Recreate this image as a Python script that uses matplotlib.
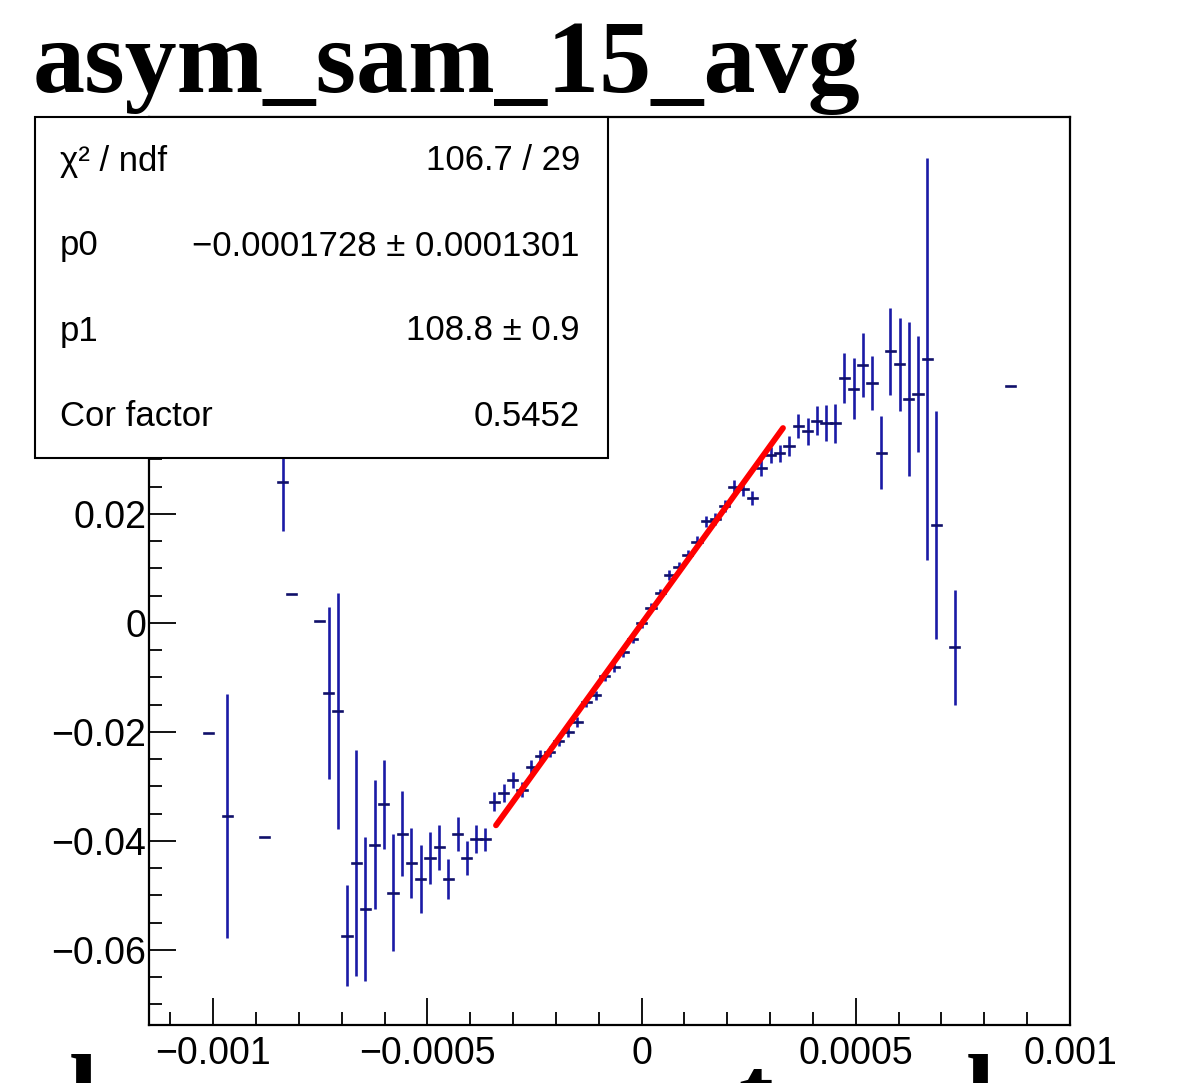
import matplotlib
matplotlib.use('Agg')
import matplotlib.pyplot as plt
import numpy as np
from matplotlib.patches import Rectangle

plt.rcParams['font.family'] = ['Liberation Sans', 'DejaVu Sans']

# histogram binning: 100 bins on [-0.00115, 0.001]
nbins = 100
xlo = -0.00115
xhi = 0.001

# filled bins (index), bin content and error
bins = [6, 8, 12, 14, 15, 18, 19, 20, 21, 22, 23, 24, 25, 26, 27, 28, 29, 30,
        31, 32, 33, 34, 35, 36, 37, 38, 39, 40, 41, 42, 43, 44, 45, 46, 47, 48,
        49, 50, 51, 52, 53, 54, 55, 56, 57, 58, 59, 60, 61, 62, 63, 64, 65, 66,
        67, 68, 69, 70, 71, 72, 73, 74, 75, 76, 77, 78, 79, 80, 81, 82, 83, 84,
        85, 87, 93]
vals = [-0.0202, -0.0354, -0.0393, 0.0258, 0.0053, 0.00035, -0.0129, -0.0162,
        -0.0574, -0.0441, -0.0525, -0.0407, -0.0333, -0.0495, -0.0387, -0.0441,
        -0.0470, -0.0432, -0.0412, -0.0470, -0.0387, -0.0432, -0.0397, -0.0397,
        -0.0328, -0.0312, -0.0288, -0.0306, -0.0264, -0.0245, -0.0237, -0.0216,
        -0.0200, -0.0182, -0.0146, -0.0133, -0.0098, -0.0082, -0.0054, -0.0030,
        -0.0001, 0.0028, 0.0054, 0.0088, 0.0103, 0.0125, 0.0149, 0.0186, 0.0190,
        0.0215, 0.0250, 0.0245, 0.0229, 0.0284, 0.0308, 0.0311, 0.0324, 0.0361,
        0.0351, 0.0371, 0.0366, 0.0366, 0.0449, 0.0429, 0.0473, 0.0440, 0.0312,
        0.0498, 0.0474, 0.0410, 0.0420, 0.0484, 0.0180, -0.0045, 0.0435]
errs = [0.0, 0.0224, 0.0, 0.0090, 0.0, 0.0, 0.0158, 0.0217,
        0.0093, 0.0208, 0.0132, 0.0118, 0.0082, 0.0107, 0.0078, 0.0064,
        0.0062, 0.0048, 0.0041, 0.0036, 0.0031, 0.0031, 0.0026, 0.0021,
        0.0017, 0.0017, 0.0015, 0.0013, 0.0012, 0.0011, 0.0010, 0.0010,
        0.0009, 0.0009, 0.0009, 0.0008, 0.0008, 0.0008, 0.0008, 0.0008,
        0.0008, 0.0008, 0.0008, 0.0009, 0.0009, 0.0009, 0.0010, 0.0010, 0.0011,
        0.0011, 0.0012, 0.0013, 0.0013, 0.0015, 0.0014, 0.0016, 0.0018, 0.0022,
        0.0025, 0.0026, 0.0033, 0.0036, 0.0046, 0.0056, 0.0059, 0.0050, 0.0067,
        0.0080, 0.0085, 0.0141, 0.0107, 0.0369, 0.0209, 0.0106, 0.0]

# fit result
p0 = -0.0001728
p1 = 108.8
fit_range = [-0.00034, 0.00033]
stats_names = ['\u03c7\u00b2 / ndf', 'p0', 'p1', 'Cor factor']
stats_vals = ['106.7 / 29', '\u22120.0001728 \u00b1 0.0001301', '108.8 \u00b1 0.9', '0.5452']

xticks = [-0.001, -0.0005, 0, 0.0005, 0.001]
xticklabels = ['\u22120.001', '\u22120.0005', '0', '0.0005', '0.001']
yticks = [-0.06, -0.04, -0.02, 0, 0.02, 0.04, 0.06, 0.08]
# labels above 0.02 sit under the stats box
yticklabels = ['\u22120.06', '\u22120.04', '\u22120.02', '0', '0.02', '', '', '']

W, H = 1177, 1083
fig = plt.figure(figsize=(W / 100, H / 100), dpi=100)
ax = fig.add_axes([149 / W, 1 - 1025 / H, 921 / W, 908 / H])

width = (xhi - xlo) / nbins
centers = xlo + (np.asarray(bins) + 0.5) * width
vals = np.asarray(vals)
errs = np.asarray(errs)

has_err = errs > 0
ax.errorbar(centers[has_err], vals[has_err], yerr=errs[has_err], fmt='none',
            ecolor='#1a1aa6', elinewidth=1.9, capsize=0, zorder=2)
ax.hlines(vals, centers - width / 2, centers + width / 2, colors='#10106a',
          linewidth=1.9, capstyle='projecting', zorder=3)

fx = np.asarray(fit_range)
ax.plot(fx, p0 + p1 * fx, color='#ff0000', lw=4.2, solid_capstyle='round', zorder=4)

ax.set_xlim(xlo, xhi)
ax.set_ylim(-0.0738, 0.0928)
ax.set_xticks(xticks)
ax.set_xticklabels(xticklabels)
ax.set_yticks(yticks)
ax.set_yticklabels(yticklabels)
ax.set_xticks(np.arange(-0.0011, 0.00101, 0.0001), minor=True)
ax.set_yticks(np.arange(-0.07, 0.0901, 0.005), minor=True)
ax.tick_params(which='both', direction='in', top=False, right=False, width=1.3,
               labelsize=27, colors='black')
ax.tick_params(which='major', length=19.5)
ax.tick_params(which='minor', length=9.5)
ax.tick_params(axis='x', which='major', pad=8)
ax.tick_params(axis='y', which='major', pad=2)
for s in ax.spines.values():
    s.set_linewidth(1.6)

# stats box
box = Rectangle((35 / W, 1 - 458 / H), 573 / W, 341 / H, transform=fig.transFigure,
                facecolor='white', edgecolor='black', linewidth=1.5, zorder=5)
fig.add_artist(box)
rows_y = [161, 246, 331, 416]
for name, v, ry in zip(stats_names, stats_vals, rows_y):
    fig.text(60 / W, 1 - ry / H, name, fontsize=25, va='center', ha='left', zorder=6)
    fig.text(580 / W, 1 - ry / H, v, fontsize=25, va='center', ha='right', zorder=6)

# title
fig.text(33 / W, 1 - 92 / H, 'asym_sam_15_avg', fontfamily='Liberation Serif',
         fontweight='bold', fontsize=75, va='baseline', ha='left')

# pieces of the next title, cut by the bottom edge
for ch, px in [('l', 69), ('t', 738), ('l', 966)]:
    fig.text(px / W, 1 - 1126 / H, ch, fontfamily='Liberation Serif',
             fontweight='bold', fontsize=75, va='baseline', ha='left')

fig.savefig('out.png', dpi=100)
